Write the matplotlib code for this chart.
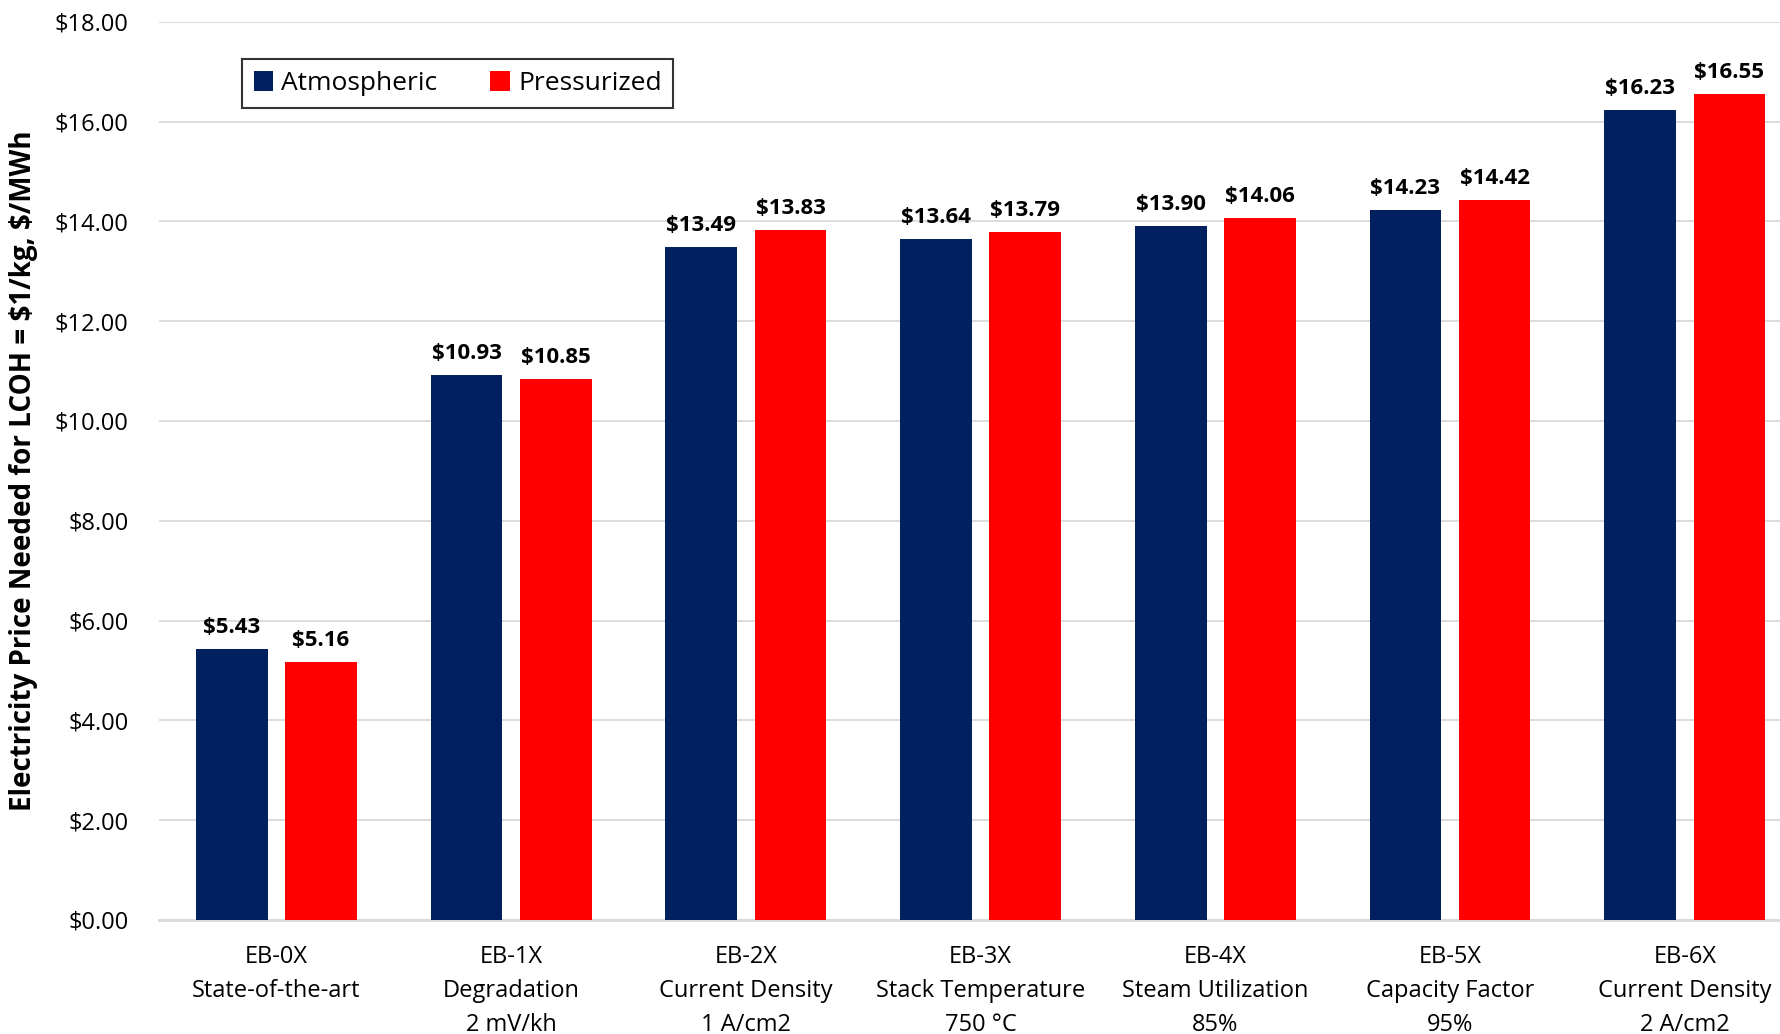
import numpy as np
import matplotlib
matplotlib.use("Agg")
import matplotlib.pyplot as plt
from matplotlib.ticker import FuncFormatter, MultipleLocator

plt.rcParams["font.family"] = ["Liberation Sans Narrow", "Open Sans", "DejaVu Sans"]

NAVY = "#002060"
RED  = "#FF0000"
GRID = "#D9D9D9"

# ── data ──────────────────────────────────────────────────────
cases = [
    "EB-0X\nState-of-the-art",
    "EB-1X\nDegradation\n2 mV/kh",
    "EB-2X\nCurrent Density\n1 A/cm2",
    "EB-3X\nStack Temperature\n750 °C",
    "EB-4X\nSteam Utilization\n85%",
    "EB-5X\nCapacity Factor\n95%",
    "EB-6X\nCurrent Density\n2 A/cm2",
]
atmospheric = [5.43, 10.93, 13.49, 13.64, 13.90, 14.23, 16.23]
pressurized = [5.16, 10.85, 13.83, 13.79, 14.06, 14.42, 16.55]

# ── figure ────────────────────────────────────────────────────
fig = plt.figure(figsize=(17.81, 10.34), dpi=100)
ax = fig.add_axes([0.0893, 0.1103, 0.9107, 0.8687])

x = np.arange(len(cases))
w = 0.305
off = 0.19

b1 = ax.bar(x - off, atmospheric, w, color=NAVY, label="Atmospheric", zorder=3)
b2 = ax.bar(x + off, pressurized, w, color=RED, label="Pressurized", zorder=3)

for bars in (b1, b2):
    for rect in bars:
        h = rect.get_height()
        ax.text(rect.get_x() + rect.get_width() / 2, h + 0.22, f"\\${h:.2f}",
                ha="center", va="bottom", fontsize=16, fontweight="bold",
                color="black", clip_on=False)

ax.set_xlim(-0.5, 6.41)
ax.set_ylim(0, 18)
ax.yaxis.set_major_locator(MultipleLocator(2))
ax.yaxis.set_major_formatter(FuncFormatter(lambda v, p: f"\\${v:.2f}"))
ax.grid(True, axis="y", color=GRID, lw=1.3, zorder=0)

ax.set_xticks(x)
ax.set_xticklabels(cases, fontsize=17, linespacing=1.55, va="top")
ax.tick_params(axis="x", length=0, pad=18)
ax.tick_params(axis="y", length=0, labelsize=17, pad=22)

for s in ("top", "right", "left"):
    ax.spines[s].set_visible(False)
ax.spines["bottom"].set_color(GRID)
ax.spines["bottom"].set_linewidth(2)

ax.set_ylabel("Electricity Price Needed for LCOH = \\$1/kg, \\$/MWh",
              fontsize=20, fontweight="bold", labelpad=12)

leg = ax.legend(loc="upper left", bbox_to_anchor=(0.051, 0.958), ncol=2,
                fontsize=19, frameon=True, fancybox=False, handlelength=0.75,
                handleheight=0.75, handletextpad=0.3, columnspacing=2.0,
                borderpad=0.45, borderaxespad=0)
leg.get_frame().set_edgecolor("black")
leg.get_frame().set_linewidth(1.5)

plt.savefig("out.png", dpi=100, facecolor="white")
plt.close()
